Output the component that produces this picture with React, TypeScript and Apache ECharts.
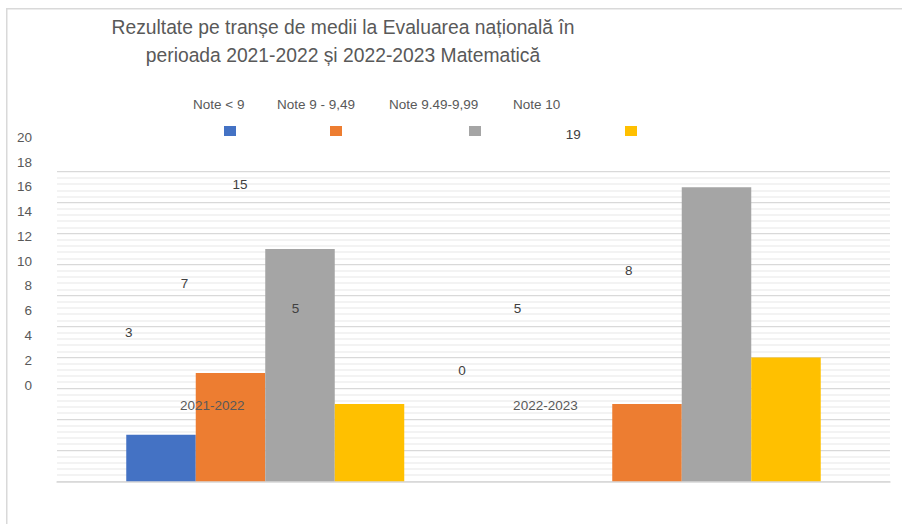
import React, { useEffect, useRef } from "react";
import * as echarts from "echarts";

const categories = ["2021-2022", "2022-2023"];
const seriesNames = ["Note < 9", "Note 9 - 9,49", "Note 9.49-9,99", "Note 10"];
const noteSub9 = [3, 0];
const note9to949 = [7, 5];
const note949to999 = [15, 19];
const note10 = [5, 8];
const seriesValues = [noteSub9, note9to949, note949to999, note10];
const seriesColors = ["#4472C4", "#ED7D31", "#A5A5A5", "#FFC000"];
const yMin = 0;
const yMax = 20;
const yInterval = 2;
const titleText =
  "Rezultate pe tranșe de medii la Evaluarea națională în\nperioada 2021-2022 și 2022-2023 Matematică";

const FONT = "'Liberation Sans', Arial, sans-serif";
const swatchLeft = [224, 330, 469, 625];
const legendTextLeft = [188, 272, 384, 508];

export default function App() {
  const ref = useRef<HTMLDivElement>(null);
  useEffect(() => {
    if (!ref.current) return;
    const chart = echarts.init(ref.current, undefined, { renderer: "svg" });

    const barSeries = seriesNames.map((name, i) => ({
      name,
      type: "bar",
      xAxisIndex: 0,
      yAxisIndex: 0,
      data: seriesValues[i],
      barWidth: 69.5,
      barGap: "0%",
      itemStyle: { color: seriesColors[i] },
      silent: true,
      z: 2,
    }));
    const labelSeries = seriesNames.map((name, i) => ({
      name,
      type: "bar",
      xAxisIndex: 1,
      yAxisIndex: 1,
      data: seriesValues[i],
      barWidth: 55.6,
      barGap: "0%",
      itemStyle: { color: "rgba(0,0,0,0)" },
      silent: true,
      z: 6,
      label: {
        show: true,
        position: "top",
        distance: 8,
        color: "#404040",
        fontSize: 13.5,
        fontFamily: FONT,
      },
    }));

    const legends: any[] = [];
    seriesNames.forEach((name, i) => {
      legends.push({
        data: [name],
        left: swatchLeft[i],
        top: 126,
        padding: 0,
        itemWidth: 12,
        itemHeight: 10,
        icon: "rect",
        selectedMode: false,
        formatter: () => "",
        textStyle: { fontSize: 1 },
      });
      legends.push({
        data: [name],
        left: legendTextLeft[i],
        top: 97,
        padding: 0,
        itemWidth: 0,
        itemHeight: 0,
        icon: "rect",
        selectedMode: false,
        itemStyle: { opacity: 0 },
        textStyle: { color: "#595959", fontSize: 13.5, fontFamily: FONT },
      });
    });

    chart.setOption({
      animation: false,
      backgroundColor: "#ffffff",
      textStyle: { fontFamily: FONT },
      graphic: [
        {
          type: "polyline",
          shape: { points: [[6.75, 524], [6.75, 8.75], [902, 8.75]] },
          style: { stroke: "#d9d9d9", lineWidth: 1.5, fill: "none" },
          silent: true,
        },
        {
          type: "text",
          x: 343,
          y: 13,
          style: {
            text: titleText,
            align: "center",
            verticalAlign: "top",
            fontSize: 19.3,
            lineHeight: 28,
            fill: "#595959",
            fontFamily: FONT,
          },
          silent: true,
        },
      ],
      legend: legends,
      grid: [
        { left: 57, right: 12, top: 171.7, bottom: 42.7 },
        { left: 45.6, right: 190, top: 137.4, bottom: 139 },
      ],
      xAxis: [
        {
          type: "category",
          gridIndex: 0,
          data: categories,
          axisLine: { show: true, lineStyle: { color: "#d9d9d9", width: 1.5 } },
          axisTick: { show: false },
          axisLabel: { show: false },
        },
        {
          type: "category",
          gridIndex: 1,
          data: categories,
          axisLine: { show: false },
          axisTick: { show: false },
          axisLabel: {
            show: true,
            margin: 13,
            color: "#595959",
            fontSize: 13.5,
            fontFamily: FONT,
          },
          z: 10,
        },
      ],
      yAxis: [
        {
          type: "value",
          gridIndex: 0,
          min: yMin,
          max: yMax,
          interval: yInterval,
          axisLine: { show: false },
          axisTick: { show: false },
          axisLabel: { show: false },
          splitLine: { show: true, lineStyle: { color: "#d9d9d9", width: 1.25 } },
          minorTick: { show: false, splitNumber: 5 },
          minorSplitLine: { show: true, lineStyle: { color: "#efefef", width: 1.5 } },
        },
        {
          type: "value",
          gridIndex: 1,
          min: yMin,
          max: yMax,
          interval: yInterval,
          axisLine: { show: false },
          axisTick: { show: false },
          splitLine: { show: false },
          axisLabel: {
            show: true,
            margin: 13.6,
            color: "#595959",
            fontSize: 13.5,
            fontFamily: FONT,
          },
          z: 10,
        },
      ],
      series: [...barSeries, ...labelSeries],
    });

    return () => chart.dispose();
  }, []);

  return (
    <div
      ref={ref}
      style={{ position: "absolute", left: 0, top: 0, width: 902, height: 524 }}
    />
  );
}
